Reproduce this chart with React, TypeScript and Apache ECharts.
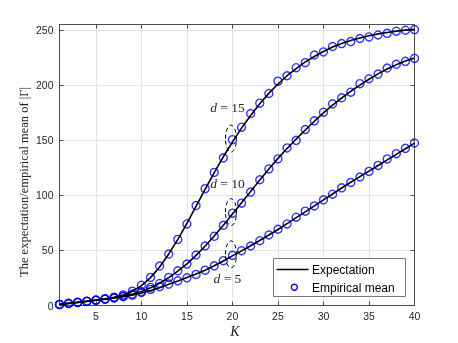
import React, { useEffect, useRef } from "react";
import * as echarts from "echarts";

const K: number[] = Array.from({ length: 40 }, (_, i) => i + 1);

const expD15 = [1.0, 2.0, 3.0, 4.0, 5.0, 6.1, 7.5, 9.6, 13.0, 18.0, 25.3, 35.0, 46.8, 60.0, 74.5, 90.0, 105.5, 120.5, 135.0, 148.5, 161.0, 172.5, 183.0, 192.5, 201.0, 208.5, 215.0, 221.0, 226.0, 230.5, 234.5, 237.8, 240.5, 242.8, 244.8, 246.5, 247.8, 249.0, 249.9, 250.6];
const empD15 = [1.0, 2.0, 3.0, 3.9, 5.0, 6.2, 7.6, 9.6, 13.0, 18.4, 25.5, 35.8, 46.7, 60.0, 74.0, 90.7, 106.0, 120.8, 134.0, 150.5, 161.8, 174.2, 183.6, 192.4, 203.6, 208.5, 215.8, 220.4, 227.3, 230.1, 235.0, 237.7, 239.5, 242.3, 243.7, 245.5, 247.0, 248.9, 249.8, 250.4];

const expD10 = [1.0, 1.9, 2.8, 3.8, 4.8, 5.8, 7.0, 8.5, 10.3, 12.8, 16.0, 20.2, 25.3, 31.2, 37.8, 45.5, 54.0, 63.0, 72.8, 83.0, 93.2, 103.5, 113.8, 123.8, 133.5, 142.5, 151.0, 159.3, 167.2, 174.8, 181.8, 188.3, 194.4, 200.0, 205.3, 210.2, 214.6, 218.5, 221.8, 224.6];
const empD10 = [1.0, 1.8, 2.8, 3.8, 4.8, 5.8, 7.0, 8.4, 10.4, 12.6, 16.4, 20.0, 25.5, 31.5, 37.6, 45.8, 54.0, 62.8, 72.8, 83.8, 92.9, 102.9, 114.1, 123.9, 133.0, 143.0, 149.9, 159.7, 167.6, 175.4, 183.0, 188.5, 193.6, 201.3, 205.8, 210.0, 215.5, 218.9, 221.6, 224.3];

const expD5 = [0.9, 1.8, 2.7, 3.7, 4.7, 5.7, 6.8, 8.0, 9.5, 11.3, 13.6, 16.2, 19.2, 22.2, 25.3, 28.5, 32.0, 36.0, 40.4, 45.0, 49.6, 54.2, 59.0, 64.0, 69.0, 74.3, 79.7, 85.0, 90.4, 95.8, 101.2, 106.6, 111.8, 116.9, 122.0, 127.0, 132.2, 137.2, 142.2, 147.3];
const empD5 = [0.9, 1.8, 2.7, 3.7, 4.7, 5.7, 6.8, 8.0, 9.4, 11.8, 14.6, 17.0, 19.4, 22.4, 25.1, 28.2, 32.1, 36.0, 40.7, 45.5, 49.7, 54.0, 58.8, 64.0, 69.2, 74.0, 80.1, 85.6, 90.4, 95.9, 101.0, 106.8, 111.7, 116.6, 121.7, 127.1, 133.0, 137.8, 142.6, 147.5];

const xTicks = [5, 10, 15, 20, 25, 30, 35, 40];
const yTicks = [0, 50, 100, 150, 200, 250];
const annotK = 20;
const annotValues = ["15", "10", "5"];
const legendNames = ["Expectation", "Empirical mean"];

const AXIS_COLOR = "#4d4d4d";
const GRID_COLOR = "#e4e4e4";
const SANS = "'Liberation Sans', Arial, Helvetica, sans-serif";
const SERIF = "'Liberation Serif', 'DejaVu Serif', serif";

const zip = (ys: number[]) => K.map((k, i) => [k, ys[i]]);

export default function App() {
  const ref = useRef<HTMLDivElement>(null);
  useEffect(() => {
    if (!ref.current) return;
    const chart = echarts.init(ref.current, undefined, { renderer: "svg" });

    const lineSeries = (d: number[]) => ({
      type: "line",
      data: zip(d),
      showSymbol: false,
      symbol: "none",
      lineStyle: { color: "#000", width: 1.6 },
      z: 4,
      silent: true,
    });
    const empSeries = (d: number[]) => ({
      type: "scatter",
      data: zip(d),
      symbol: "circle",
      symbolSize: 8,
      itemStyle: { color: "rgba(0,0,0,0)", borderColor: "#0000ff", borderWidth: 1.4 },
      z: 3,
      silent: true,
    });

    const xAxisBase = {
      type: "value",
      min: 1,
      max: 40,
      axisLine: { show: true, onZero: false, lineStyle: { color: AXIS_COLOR, width: 1 } },
    };
    const yAxisBase = {
      type: "value",
      min: 0,
      max: 255,
      axisLine: { show: true, onZero: false, lineStyle: { color: AXIS_COLOR, width: 1 } },
    };

    chart.setOption({
      animation: false,
      grid: { left: 59.5, right: 43.5, top: 24.5, bottom: 37.5, containLabel: false, outerBoundsMode: "none" },
      xAxis: [
        {
          ...xAxisBase,
          position: "bottom",
          axisTick: { show: true, inside: true, length: 4, customValues: xTicks, lineStyle: { color: AXIS_COLOR } },
          axisLabel: { show: true, customValues: xTicks, color: "#262626", fontFamily: SANS, fontSize: 10.5, margin: 5 },
          splitLine: { show: true, lineStyle: { color: GRID_COLOR, width: 1 } },
        },
        {
          ...xAxisBase,
          position: "top",
          axisTick: { show: true, inside: true, length: 4, customValues: xTicks, lineStyle: { color: AXIS_COLOR } },
          axisLabel: { show: false },
          splitLine: { show: false },
        },
      ],
      yAxis: [
        {
          ...yAxisBase,
          position: "left",
          axisTick: { show: true, inside: true, length: 4, customValues: yTicks, lineStyle: { color: AXIS_COLOR } },
          axisLabel: { show: true, customValues: yTicks, color: "#262626", fontFamily: SANS, fontSize: 10.5, margin: 6 },
          splitLine: { show: true, lineStyle: { color: GRID_COLOR, width: 1 } },
        },
        {
          ...yAxisBase,
          position: "right",
          axisTick: { show: true, inside: true, length: 4, customValues: yTicks, lineStyle: { color: AXIS_COLOR } },
          axisLabel: { show: false },
          splitLine: { show: false },
        },
      ],
      series: [
        empSeries(empD15),
        empSeries(empD10),
        empSeries(empD5),
        lineSeries(expD15),
        lineSeries(expD10),
        lineSeries(expD5),
      ],
    });

    const idx = annotK - 1;
    const pts = [empD15[idx], empD10[idx], empD5[idx]].map((v) =>
      chart.convertToPixel({ gridIndex: 0 }, [annotK, v]) as number[]
    );
    const labelOffsets = [-32, -30, 23];

    const graphic: any[] = [];
    pts.forEach((p, i) => {
      graphic.push({
        type: "ellipse",
        shape: { cx: p[0] - 1.5, cy: p[1] - 1, rx: 5.5, ry: 13.5 },
        style: { fill: "none", stroke: "#000", lineWidth: 1, lineDash: [4, 3] },
        z: 10,
      });
      graphic.push({
        type: "text",
        x: p[0] - 5,
        y: p[1] + labelOffsets[i],
        style: {
          text: `{i|d} = ${annotValues[i]}`,
          rich: {
            i: { fontStyle: "italic", fontFamily: SERIF, fontSize: 13.5, fill: "#262626" },
          },
          fontFamily: SERIF,
          fontSize: 13.5,
          fill: "#262626",
          align: "center",
          verticalAlign: "middle",
        },
        z: 10,
      });
    });

    // axis titles
    graphic.push({
      type: "text",
      x: 24,
      y: 182,
      rotation: Math.PI / 2,
      style: {
        text: "The expectation/empirical mean of |Γ|",
        font: `12.5px ${SERIF}`,
        fill: "#262626",
        align: "center",
        verticalAlign: "middle",
      },
    });
    graphic.push({
      type: "text",
      x: 235,
      y: 331,
      style: { text: "K", font: `italic 14px ${SERIF}`, fill: "#262626", align: "center", verticalAlign: "middle" },
    });

    // legend box
    graphic.push({
      type: "rect",
      shape: { x: 273.5, y: 258.5, width: 132, height: 38 },
      style: { fill: "#fff", stroke: "#555", lineWidth: 0.8 },
      z: 20,
    });
    graphic.push({
      type: "line",
      shape: { x1: 276.5, y1: 269.5, x2: 308.5, y2: 269.5 },
      style: { stroke: "#000", lineWidth: 1.6 },
      z: 21,
    });
    graphic.push({
      type: "circle",
      shape: { cx: 294.3, cy: 287.3, r: 3 },
      style: { fill: "none", stroke: "#0000ff", lineWidth: 1.4 },
      z: 21,
    });
    legendNames.forEach((n, i) => {
      graphic.push({
        type: "text",
        x: 312,
        y: i === 0 ? 270 : 287.5,
        style: { text: n, font: `12px ${SANS}`, fill: "#000", verticalAlign: "middle", align: "left" },
        z: 21,
      });
    });

    chart.setOption({ graphic });

    return () => chart.dispose();
  }, []);
  return <div ref={ref} style={{ position: "fixed", left: 0, top: 0, width: 458, height: 343 }} />;
}
